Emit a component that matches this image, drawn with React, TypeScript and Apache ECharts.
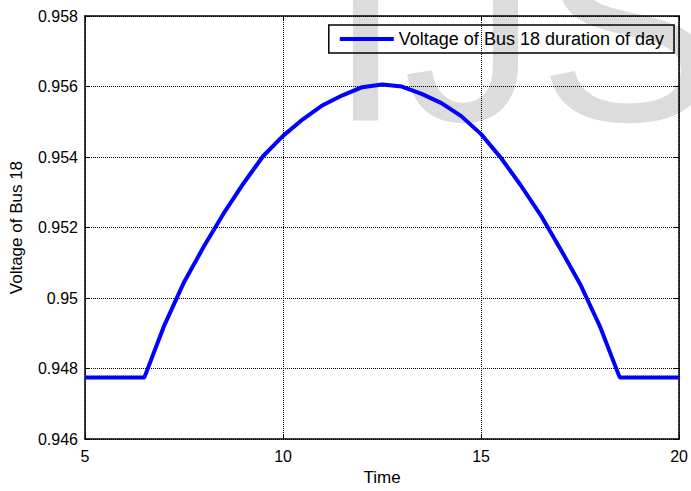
import React, { useEffect, useRef } from "react";
import * as echarts from "echarts";

const times = [5, 5.5, 6, 6.5, 7, 7.5, 8, 8.5, 9, 9.5, 10, 10.5, 11, 11.5, 12, 12.5, 13, 13.5, 14, 14.5, 15, 15.5, 16, 16.5, 17, 17.5, 18, 18.5, 19, 19.5, 20];
const voltages = [
  0.94775, 0.94775, 0.94775, 0.94775, 0.94922, 0.95045, 0.95146, 0.9524, 0.95325, 0.95403,
  0.9546, 0.95507, 0.95547, 0.95575, 0.95598, 0.95606, 0.956, 0.95579, 0.95553, 0.95516,
  0.95465, 0.95398, 0.9532, 0.95236, 0.9514, 0.9504, 0.9492, 0.94775, 0.94775, 0.94775, 0.94775,
];
const seriesName = "Voltage of Bus 18 duration of day";
const xTitle = "Time";
const yTitle = "Voltage of Bus 18";
const watermark = "IJS";

const FONT = "'Liberation Sans', Arial, Helvetica, sans-serif";

export default function App() {
  const ref = useRef<HTMLDivElement>(null);
  useEffect(() => {
    if (!ref.current) return;
    const chart = echarts.init(ref.current, null, { renderer: "svg" });
    const tickInside = { show: true, inside: true, length: 5, lineStyle: { color: "#000", width: 1 } };
    const axisLine = { show: true, onZero: false, lineStyle: { color: "#000", width: 1.5 } };
    const split = { show: true, lineStyle: { color: "#000", width: 1, type: [1, 1] as any } };
    chart.setOption({
      animation: false,
      backgroundColor: "#fff",
      textStyle: { fontFamily: FONT },
      graphic: [
        {
          type: "text",
          z: -10,
          silent: true,
          x: 328,
          y: 27,
          style: {
            text: watermark,
            font: `270px ${FONT}`,
            fill: "#dcdcdc",
            align: "left",
            verticalAlign: "middle",
          },
        },
      ],
      grid: { left: 85, right: 10, top: 16, bottom: 46, containLabel: false },
      legend: {
        show: true,
        right: 17,
        top: 25,
        padding: [5, 10, 5, 11],
        itemWidth: 54,
        itemHeight: 14,
        borderColor: "#000",
        borderWidth: 1.5,
        backgroundColor: "transparent",
        textStyle: { fontFamily: FONT, fontSize: 18, color: "#000" },
        data: [{ name: seriesName, icon: "path://M0,0 L54,0 L54,4 L0,4 Z", itemStyle: { color: "#0000ff" } }],
        itemStyle: { color: "#0000ff" },
      },
      xAxis: [
        {
          type: "value",
          min: 5,
          max: 20,
          interval: 5,
          position: "bottom",
          name: xTitle,
          nameLocation: "middle",
          nameGap: 27,
          nameTextStyle: { fontFamily: FONT, fontSize: 17, color: "#000" },
          axisLine,
          axisTick: tickInside,
          axisLabel: { fontFamily: FONT, fontSize: 16, color: "#000", margin: 9 },
          splitLine: split,
        },
        {
          type: "value",
          min: 5,
          max: 20,
          interval: 5,
          position: "top",
          axisLine,
          axisTick: tickInside,
          axisLabel: { show: false },
          splitLine: { show: false },
        },
      ],
      yAxis: [
        {
          type: "value",
          min: 0.946,
          max: 0.958,
          interval: 0.002,
          position: "left",
          name: yTitle,
          nameLocation: "middle",
          nameGap: 60,
          nameTextStyle: { fontFamily: FONT, fontSize: 17, color: "#000" },
          axisLine,
          axisTick: tickInside,
          axisLabel: { fontFamily: FONT, fontSize: 16, color: "#000", margin: 7 },
          splitLine: split,
        },
        {
          type: "value",
          min: 0.946,
          max: 0.958,
          interval: 0.002,
          position: "right",
          axisLine,
          axisTick: tickInside,
          axisLabel: { show: false },
          splitLine: { show: false },
        },
      ],
      series: [
        {
          name: seriesName,
          type: "line",
          xAxisIndex: 0,
          yAxisIndex: 0,
          data: times.map((t, i) => [t, voltages[i]]),
          symbol: "none",
          showSymbol: false,
          lineStyle: { color: "#0000ff", width: 4 },
          itemStyle: { color: "#0000ff" },
          z: 5,
        },
      ],
    });
    return () => chart.dispose();
  }, []);
  return <div ref={ref} style={{ width: 691, height: 491, position: "absolute", left: 0, top: 0 }} />;
}
